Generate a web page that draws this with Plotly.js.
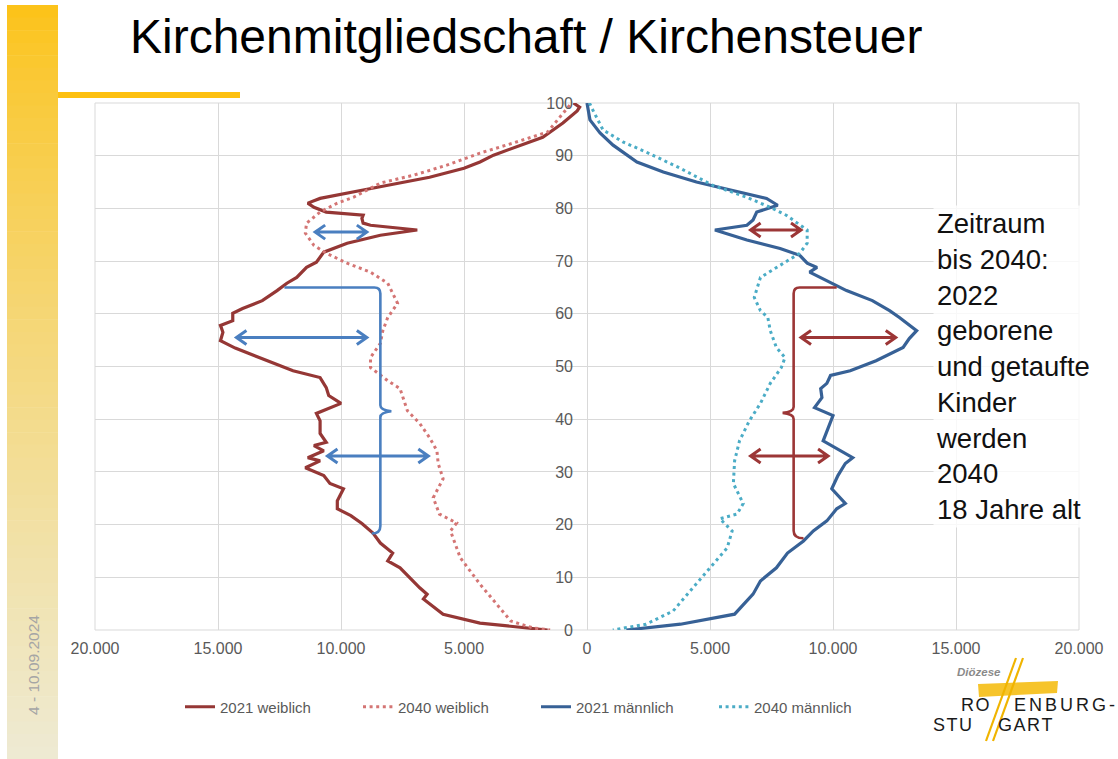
<!DOCTYPE html>
<html><head><meta charset="utf-8">
<script src="https://cdn.plot.ly/plotly-3.0.1.min.js"></script>
<style>html,body{margin:0;padding:0;background:#fff}#chart{width:1118px;height:759px}</style>
</head><body><div id="chart"></div>
<script>
// ---------------- data (persons per age year) ----------------
const ageW21 = [100,99.2,98.5,96.2,93.5,91.4,90.1,88.8,87.6,85.9,84.8,83.5,81.9,81.0,80.2,79.3,78.7,78.1,77.2,76.8,75.9,74.9,73.4,71.7,69.8,68.8,66.9,65.8,64.4,62.5,61.0,60.1,58.7,57.8,56.5,54.9,53.5,52.0,51.1,49.2,47.9,46.0,44.5,43.0,41.1,39.7,37.3,35.6,35.0,34.0,32.7,32.1,30.8,29.3,27.8,26.8,24.5,23.0,21.7,20.2,18.4,16.5,14.6,13.1,11.8,8.0,6.8,5.9,3.0,1.3,0];
const valW21 = [550,300,400,980,1800,3000,3800,4350,5000,6400,7700,9100,10850,11350,11100,10600,9100,9150,9100,8800,6900,8400,9750,10700,11000,11400,11800,12200,12600,13200,14000,14400,14400,14900,14800,14900,14300,13500,13000,11950,10850,10600,10500,10000,11000,10850,10850,10600,11100,10700,11350,10850,11450,10700,10450,9900,10150,10150,9600,9150,8700,8400,7900,8100,7600,6800,6500,6650,5850,4350,1600];

const ageW40 = [99.6,97.3,94.5,92.4,90.5,88.2,86.3,84.8,82.1,81.0,79.3,77.2,75.3,73.0,71.5,69.6,67.9,65.8,63.9,62.0,59.3,56.8,54.4,51.7,49.8,47.3,45.8,41.6,39.2,36.5,34.0,31.6,28.7,25.1,22.0,20.3,18.8,13.7,8.7,4.9,1.7,0.4,0];
const valW40 = [700,1100,1600,3000,4350,5700,7050,8400,9500,10150,10850,11400,11450,11100,10600,9750,8800,8100,7900,7700,8100,8300,8400,8800,8800,8100,7600,7300,6800,6400,6100,6050,5850,6250,6000,5300,5550,5150,4350,3650,3100,2200,1500];

const ageM21 = [100,96.8,94.3,92.0,88.8,86.9,85.0,83.5,81.9,80.6,79.3,77.8,76.8,75.9,74.0,72.4,71.1,69.6,68.8,67.9,66.0,64.4,62.5,60.6,59.3,56.8,55.3,53.6,51.1,49.2,48.3,46.8,45.8,44.1,42.2,40.7,35.9,34.4,32.7,31.6,29.3,26.8,24.0,23.0,20.7,18.8,16.9,14.6,11.8,9.3,6.8,3.0,1.1,0];
const valM21 = [0,120,530,1060,2030,3100,4450,5800,7300,7750,6900,6750,6500,5200,6500,7850,8650,8950,9350,9050,9900,10550,11600,12300,12700,13400,13100,12850,11750,10700,9900,9750,9500,9550,9250,10000,9600,10150,10800,10500,10200,9950,10500,10150,9750,9200,8800,8150,7700,7050,6750,6000,3800,1600];

const ageM40 = [100,99.0,94.9,92.6,90.7,87.6,84.4,82.1,80.2,78.7,75.9,73.4,71.5,69.2,66.9,63.1,60.6,59.3,56.8,53.6,51.7,49.8,46.8,43.0,39.7,35.9,32.1,27.8,24.0,22.0,21.1,18.8,15.6,11.8,8.0,3.6,1.1,0];
const valM40 = [100,200,650,1460,2400,3800,5100,6500,7450,8100,8950,8950,8650,7850,7050,6800,7050,7350,7450,7700,8050,7900,7450,7050,6600,6200,6000,5950,6350,6100,5400,5900,5700,5000,4300,3500,2400,1050];

const seriesNames = ['2021 weiblich','2040 weiblich','2021 männlich','2040 männlich'];

const xTickVals = [-20000,-15000,-10000,-5000,0,5000,10000,15000,20000];
const xTickText = ['20.000','15.000','10.000','5.000','0','5.000','10.000','15.000','20.000'];
const yTickVals = [0,10,20,30,40,50,60,70,80,90,100];

// arrows (age, from, to) – left side (women, shown negative) and right side (men)
const arrowAgeW  = [75.5, 55.5, 33.0];
const arrowFromW = [11050, 14250, 10550];
const arrowToW   = [8950, 8950, 6450];
const arrowAgeM  = [75.9, 55.5, 33.0];
const arrowFromM = [6650, 8700, 6650];
const arrowToM   = [8700, 12550, 9800];

// brackets: [top age, notch age, bottom age, spine value, top start value, bottom end value]
const bracketW = [65, 41.5, 18.3, 8400, 12300, 8750];
const bracketM = [65, 41.2, 17.4, 8400, 10150, 8800];

const sideText = ['Zeitraum','bis 2040:','2022','geborene','und getaufte','Kinder','werden','2040','18 Jahre alt'];

// ---------------- styling ----------------
const FONT = 'Liberation Sans, Arial, sans-serif';
const C_W21 = '#953735', C_W40 = '#d47574', C_M21 = '#376196', C_M40 = '#4bacc6';
const C_BLUE = '#4a7fc0', C_RED = '#9c3636';
const GRID = '#d9d9d9';

const ML = 95, MR = 39, MT = 103, MB = 129, W = 1118, H = 759;
const PW = W - ML - MR, PH = H - MT - MB;
const px = v => (v - ML) / PW;          // pixel -> paper x
const py = v => (H - MB - v) / PH;      // pixel -> paper y
const kPerPx = 40000 / PW, agePerPx = 100 / PH;

const neg = a => a.map(v => -v);

const traces = [
  {x: neg(valW21), y: ageW21, name: seriesNames[0], mode:'lines', line:{color:C_W21, width:3.2}},
  {x: neg(valW40), y: ageW40, name: seriesNames[1], mode:'lines', line:{color:C_W40, width:3, dash:'3px,3.6px'}},
  {x: valM21, y: ageM21, name: seriesNames[2], mode:'lines', line:{color:C_M21, width:3.2}},
  {x: valM40, y: ageM40, name: seriesNames[3], mode:'lines', line:{color:C_M40, width:3, dash:'3px,3.6px'}}
];

const shapes = [];
const annotations = [];

// left decorative gradient bar
const NS = 60, barTop = 5, barBot = 759;
const cTop = [252,195,26], cBot = [238,234,210];
for (let i = 0; i < NS; i++) {
  const t = i / (NS - 1);
  const e = Math.pow(t, 0.8);
  const c = cTop.map((v, k) => Math.round(v + (cBot[k] - v) * e));
  const y0 = barTop + (barBot - barTop) * i / NS, y1 = barTop + (barBot - barTop) * (i + 1) / NS + 0.6;
  shapes.push({type:'rect', xref:'paper', yref:'paper', x0:px(7), x1:px(58), y0:py(y0), y1:py(y1),
    fillcolor:`rgb(${c[0]},${c[1]},${c[2]})`, line:{width:0}, layer:'below'});
}
// yellow rule under title
shapes.push({type:'rect', xref:'paper', yref:'paper', x0:px(58), x1:px(240), y0:py(92), y1:py(98),
  fillcolor:'#fdc010', line:{width:0}, layer:'below'});
// plot border
shapes.push({type:'rect', xref:'paper', yref:'paper', x0:0, x1:1, y0:0, y1:1, line:{color:GRID, width:1}, layer:'below'});

// arrows
const hdx = 10 * kPerPx, hdy = 7 * agePerPx;
function arrowPath(y, a, b) {
  return `M ${a+hdx},${y+hdy} L ${a},${y} L ${a+hdx},${y-hdy} M ${a},${y} L ${b},${y} ` +
         `M ${b-hdx},${y+hdy} L ${b},${y} L ${b-hdx},${y-hdy}`;
}
arrowAgeW.forEach((y, i) => {
  shapes.push({type:'path', xref:'x', yref:'y', path: arrowPath(y, -arrowFromW[i], -arrowToW[i]), line:{color:C_BLUE, width:3}});
});
arrowAgeM.forEach((y, i) => {
  shapes.push({type:'path', xref:'x', yref:'y', path: arrowPath(y, arrowFromM[i], arrowToM[i]), line:{color:C_RED, width:3}});
});

// brackets
function bracketPath(b, s) {
  const [top, notch, bot, spine, start, end] = b;
  const r = 6 * kPerPx, ra = 6 * agePerPx, nx = 11 * kPerPx, na = 6 * agePerPx;
  const X = v => s * v;
  return `M ${X(start)},${top} L ${X(spine + r)},${top} Q ${X(spine)},${top} ${X(spine)},${top - ra} ` +
         `L ${X(spine)},${notch + na} Q ${X(spine)},${notch + 0.2} ${X(spine - nx)},${notch} ` +
         `Q ${X(spine)},${notch - 0.2} ${X(spine)},${notch - na} ` +
         `L ${X(spine)},${bot + ra + 0.3} Q ${X(spine)},${bot} ${X(end)},${bot}`;
}
shapes.push({type:'path', xref:'x', yref:'y', path: bracketPath(bracketW, -1), line:{color:C_BLUE, width:2.6}});
shapes.push({type:'path', xref:'x', yref:'y', path: bracketPath(bracketM, 1), line:{color:C_RED, width:2.6}});

// side text
annotations.push({xref:'paper', yref:'paper', x:px(933), y:py(366), xanchor:'left', yanchor:'middle',
  text: sideText.join('<br>'), align:'left', showarrow:false,
  font:{family:FONT, size:27.5, color:'#111'}, bgcolor:'rgba(255,255,255,0.8)', borderpad:2});

// date (vertical)
annotations.push({xref:'paper', yref:'paper', x:px(33), y:py(665), xanchor:'center', yanchor:'middle',
  text:'4 - 10.09.2024', textangle:-90,
  showarrow:false, font:{family:FONT, size:15.5, color:'#a5a5a5'}});

// logo
shapes.push({type:'path', xref:'paper', yref:'paper',
  path:`M ${px(978)},${py(684)} L ${px(1058)},${py(681)} L ${px(1057)},${py(693)} L ${px(979)},${py(697)} Z`,
  fillcolor:'rgba(245,190,20,0.9)', line:{width:0}});
shapes.push({type:'line', xref:'paper', yref:'paper', x0:px(1016), y0:py(658), x1:px(986), y1:py(741), line:{color:'#f0b400', width:2.2}});
shapes.push({type:'line', xref:'paper', yref:'paper', x0:px(1023), y0:py(658), x1:px(993), y1:py(741), line:{color:'#f0b400', width:2.2}});
annotations.push({xref:'paper', yref:'paper', x:px(955), y:py(672), xanchor:'left', yanchor:'middle', showarrow:false,
  text:'<b><i>Diözese</i></b>', font:{family:FONT, size:11.5, color:'#8a8a8a'}});
const hs = '\u200A';
annotations.push({xref:'paper', yref:'paper', x:px(959), y:py(705), xanchor:'left', yanchor:'middle', showarrow:false,
  text:['R','O'].join(hs), font:{family:FONT, size:18, color:'#1a1a1a'}});
annotations.push({xref:'paper', yref:'paper', x:px(1012), y:py(705), xanchor:'left', yanchor:'middle', showarrow:false,
  text:['E','N','B','U','R','G','-'].join(hs+hs), font:{family:FONT, size:18, color:'#1a1a1a'}});
annotations.push({xref:'paper', yref:'paper', x:px(931), y:py(725), xanchor:'left', yanchor:'middle', showarrow:false,
  text:['S','T','U'].join(hs), font:{family:FONT, size:18, color:'#1a1a1a'}});
annotations.push({xref:'paper', yref:'paper', x:px(996), y:py(725), xanchor:'left', yanchor:'middle', showarrow:false,
  text:['G','A','R','T'].join(hs), font:{family:FONT, size:18, color:'#1a1a1a'}});

const layout = {
  width: W, height: H,
  margin: {l:ML, r:MR, t:MT, b:MB, pad:0},
  paper_bgcolor:'#ffffff', plot_bgcolor:'#ffffff',
  font: {family:FONT, color:'#595959'},
  title: {text:'Kirchenmitgliedschaft / Kirchensteuer', xref:'container', yref:'container',
    x: 130/W, xanchor:'left', y: 1 - 36/H, yanchor:'middle',
    font:{family:FONT, size:48, color:'#000'}},
  xaxis: {range:[-20000,20000], tickvals:xTickVals, ticktext:xTickText, showgrid:true, gridcolor:GRID, gridwidth:1,
    zeroline:false, showline:false, ticks:'', tickfont:{size:16, color:'#595959'}, ticklabelstandoff:7, fixedrange:true},
  yaxis: {range:[0,100], tickvals:yTickVals, showgrid:true, gridcolor:GRID, gridwidth:1, zeroline:false, showline:false,
    ticks:'', anchor:'free', position:0.5, side:'left', tickfont:{size:16, color:'#595959'}, ticklabelstandoff:14, fixedrange:true},
  showlegend:true,
  legend: {orientation:'h', x:px(180), xanchor:'left', y:py(707), yanchor:'middle', font:{size:15, color:'#595959'},
    bgcolor:'rgba(0,0,0,0)', entrywidth:133, entrywidthmode:'pixels'},
  shapes, annotations
};

Plotly.newPlot('chart', traces, layout, {displayModeBar:false, staticPlot:true});
</script></body></html>
